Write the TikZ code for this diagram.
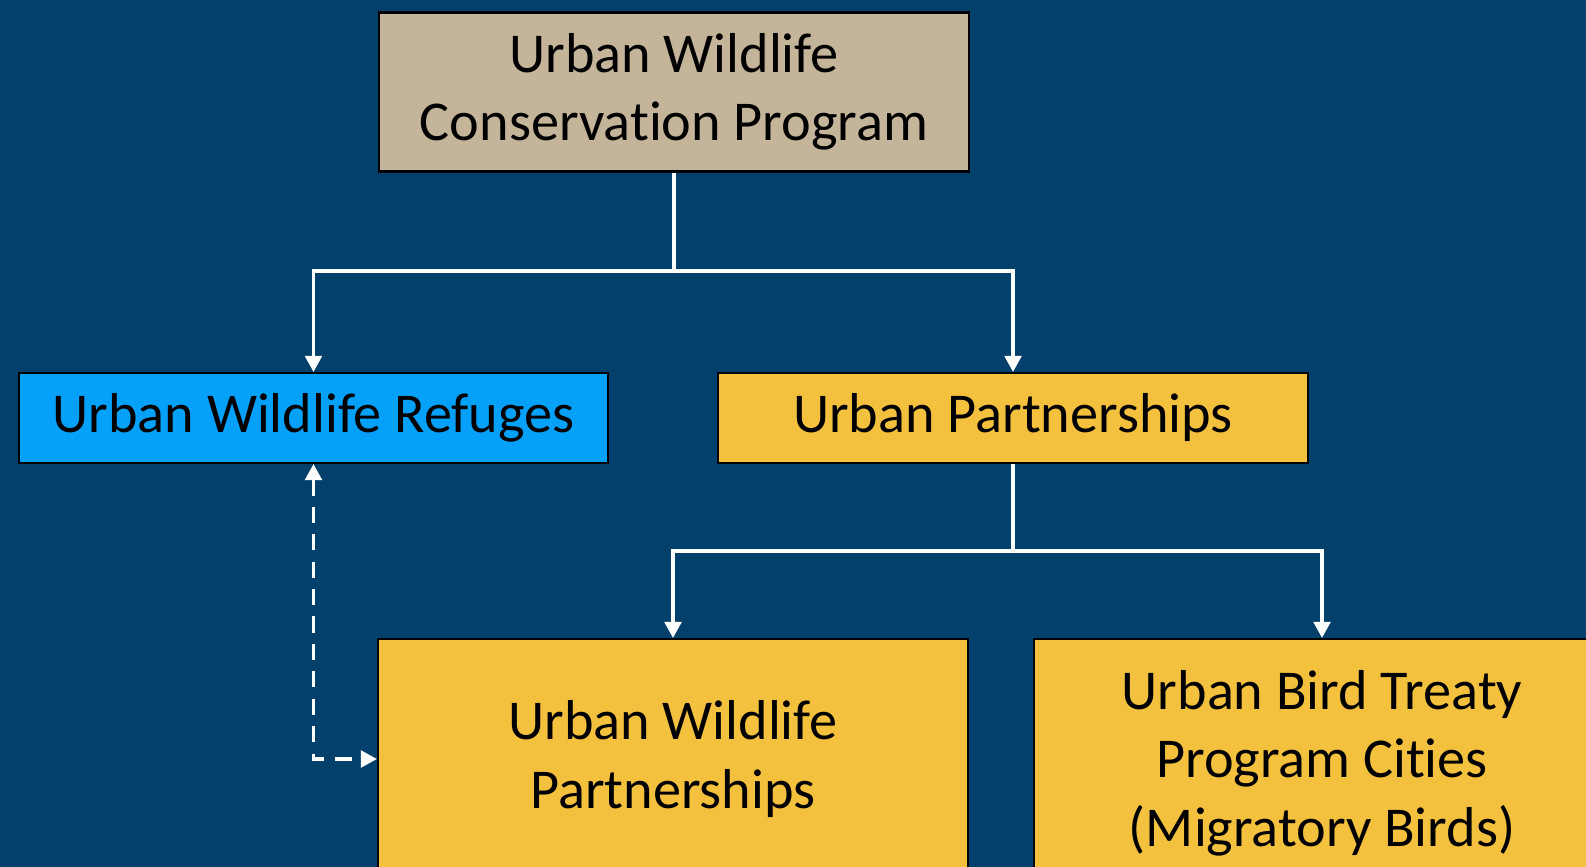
\documentclass[tikz,border=0pt]{standalone}
\usepackage{fontspec}
\setmainfont[Ligatures=NoCommon]{Carlito}
\usepackage{tikz}
\usetikzlibrary{arrows.meta,positioning,calc}
\pgfdeclarelayer{bg}
\pgfsetlayers{bg,main}
\definecolor{navy}{HTML}{03416C}
\definecolor{tan}{HTML}{C4B499}
\definecolor{sky}{HTML}{05A0F8}
\definecolor{gold}{HTML}{F3C13D}

\begin{document}
\begin{tikzpicture}[
    box/.style={draw=black, line width=0.6pt, align=center, inner sep=0pt,
        font=\fontsize{16}{19.5}\selectfont},
    link/.style={draw=white, line width=0.9pt, -{Triangle[width=4.8pt,length=4.6pt]}},
    dlink/.style={link, dash pattern=on 4.6pt off 3.2pt,
        {Triangle[width=4.8pt,length=4.6pt]}-{Triangle[width=4.8pt,length=4.6pt]}}
    ]
    \useasboundingbox (0,0) rectangle (15.86,-8.67);
    \node [box, fill=tan, minimum width=5.90cm, minimum height=1.59cm] (prog) at (6.74,-0.92) {Urban Wildlife\\Conservation Program};
    \node [box, fill=sky, minimum width=5.89cm, minimum height=0.90cm] (refuges) at (3.135,-4.18) {Urban Wildlife Refuges};
    \node [box, fill=gold, minimum width=5.90cm, minimum height=0.90cm] (partner) at (10.13,-4.18) {Urban Partnerships};
    \node [box, fill=gold, minimum width=5.90cm, minimum height=2.40cm] (uwp) at (6.73,-7.59) {Urban Wildlife\\Partnerships};
    \node [box, fill=gold, minimum width=5.76cm, minimum height=2.48cm] (ubt) at (13.22,-7.63) {Urban Bird Treaty\\Program Cities\\(Migratory Birds)};

    \coordinate (j1) at (6.74,-2.71);
    \coordinate (j2) at (10.13,-5.51);
    \draw [link, -] (prog.south) -- (j1);
    \draw [link] (j1) -| (refuges.north);
    \draw [link] (j1) -| (partner.north);
    \draw [link, -] (partner.south) -- (j2);
    \draw [link] (j2) -| (uwp.north);
    \draw [link] (j2) -| (ubt.north);
    \draw [dlink] (refuges.south) |- (uwp.west);

    \begin{pgfonlayer}{bg}    % background
        \fill [navy] (0,0) rectangle (15.86,-8.67);
    \end{pgfonlayer}
\end{tikzpicture}
\end{document}
